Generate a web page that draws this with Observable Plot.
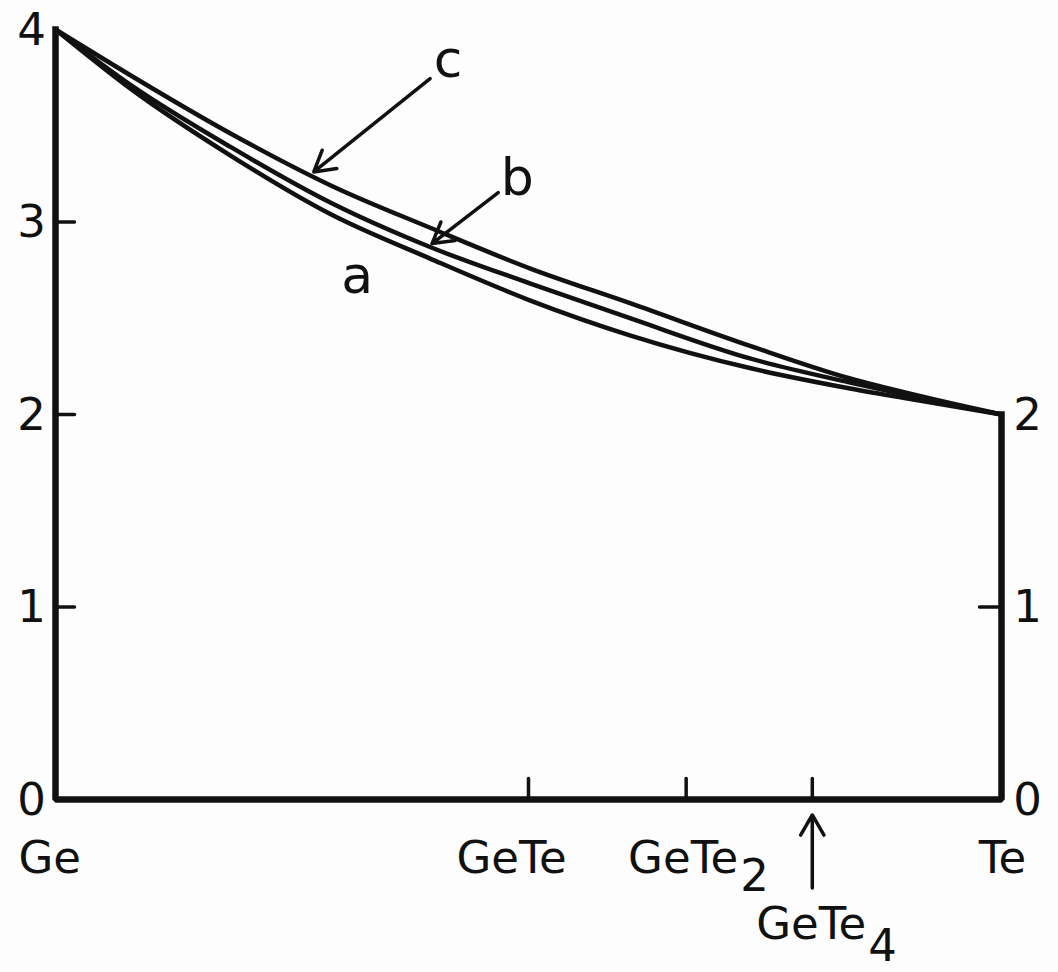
<!DOCTYPE html>
<html>
<head>
<meta charset="utf-8">
<script src="https://cdn.jsdelivr.net/npm/d3@7"></script>
<script src="https://cdn.jsdelivr.net/npm/@observablehq/plot@0.6"></script>
<style>
  html, body { margin: 0; padding: 0; background: #fdfdfd; }
  #chart svg { display: block; }
</style>
</head>
<body>
<div id="chart"></div>
<script>
// Composition runs from pure Ge (0) to pure Te (1), as atomic fraction of Te.
const compX = [0, 0.08, 0.185, 0.291, 0.396, 0.502, 0.608, 0.735, 0.84, 0.91, 1];

// The three model curves (average coordination vs. composition)
const curveA = [4, 3.69, 3.345, 3.04, 2.81, 2.592, 2.41, 2.24, 2.135, 2.075, 2.0];
const curveB = [4, 3.71, 3.39, 3.10, 2.87, 2.68, 2.499, 2.29, 2.166, 2.09, 2.0];
const curveC = [4, 3.76, 3.46, 3.19, 2.97, 2.758, 2.577, 2.355, 2.187, 2.10, 2.0];

// Outline of the diagram: left axis up to 4, bottom, right axis up to 2
const frameX = [0, 0, 1, 1];
const frameY = [4, 0, 0, 2];

// Axis ticks and their labels
const leftTicks = [1, 2, 3];
const leftLabels = [0, 1, 2, 3, 4];
const rightTicks = [1];
const rightLabels = [0, 1, 2];

// Compounds marked along the composition axis
const compoundNames = ["GeTe", "GeTe2", "GeTe4"];
const compoundX = [0.5, 2 / 3, 0.8];

// Curve labels and pointer arrows
const curveNames = ["a", "b", "c"];
const curveLabelX = [0.319, 0.488, 0.415];
const curveLabelY = [2.629, 3.138, 3.751];
const pointerFromX = [0.468, 0.396];
const pointerFromY = [3.153, 3.745];
const pointerToX = [0.398, 0.273];
const pointerToY = [2.888, 3.26];

const ink = "#111";
const font = "'DejaVu Sans', sans-serif";
const size = 45;

const curves = [
  ...compX.map((x, i) => ({x, y: curveA[i], k: "a"})),
  ...compX.map((x, i) => ({x, y: curveB[i], k: "b"})),
  ...compX.map((x, i) => ({x, y: curveC[i], k: "c"}))
];
const frame = frameX.map((x, i) => ({x, y: frameY[i]}));
const curveLabels = curveNames.map((t, i) => ({t, x: curveLabelX[i], y: curveLabelY[i]}));
const pointers = pointerFromX.map((x, i) => ({x1: x, y1: pointerFromY[i], x2: pointerToX[i], y2: pointerToY[i]}));

// a short straight stroke used for inward-pointing ticks
const stub = {draw(context, l) { context.moveTo(0, 0); context.lineTo(0, -l); }};

// bottom label: base text plus optional subscript
function compoundLabel(x, base, sub, opts) {
  const marks = [
    Plot.text([x], {x: d => d, y: 0, text: [base], textAnchor: opts.anchor, lineAnchor: "bottom",
      dx: opts.dx, dy: opts.dy, fontSize: size, fontFamily: font, fill: ink})
  ];
  if (sub) {
    marks.push(Plot.text([x], {x: d => d, y: 0, text: [sub], textAnchor: "start", lineAnchor: "bottom",
      dx: opts.dx + 2, dy: opts.dy + opts.drop, fontSize: size, fontFamily: font, fill: ink}));
  }
  return marks;
}

const chart = Plot.plot({
  width: 1058,
  height: 972,
  marginLeft: 55,
  marginRight: 57,
  marginTop: 29,
  marginBottom: 173,
  x: {domain: [0, 1], axis: null},
  y: {domain: [0, 4], axis: null},
  style: {background: "#fdfdfd", fontFamily: font},
  marks: [
    // curves a, b, c
    Plot.line(curves, {x: "x", y: "y", z: "k", curve: "monotone-x", stroke: ink, strokeWidth: 4.5}),
    // outline axes
    Plot.line(frame, {x: "x", y: "y", stroke: ink, strokeWidth: 6.5, strokeLinejoin: "miter", strokeLinecap: "square"}),
    // inward ticks on the left axis
    Plot.vector(leftTicks, {x: 0, y: d => d, rotate: 90, length: 19, anchor: "start", shape: stub, stroke: ink, strokeWidth: 3.5}),
    // inward tick on the right axis
    Plot.vector(rightTicks, {x: 1, y: d => d, rotate: -90, length: 22, anchor: "start", shape: stub, stroke: ink, strokeWidth: 3.5}),
    // compound ticks on the bottom axis
    Plot.vector(compoundX, {x: d => d, y: 0, rotate: 0, length: 21, anchor: "start", shape: stub, stroke: ink, strokeWidth: 3.5}),
    // y labels
    Plot.text(leftLabels, {x: 0, y: d => d, text: d => String(d), dx: -24, dy: 1, textAnchor: "middle", fontSize: size, fontFamily: font, fill: ink}),
    Plot.text(rightLabels, {x: 1, y: d => d, text: d => String(d), dx: 26, dy: 1, textAnchor: "middle", fontSize: size, fontFamily: font, fill: ink}),
    // composition labels
    ...compoundLabel(0, "Ge", "", {anchor: "start", dx: -37, dy: 73}),
    ...compoundLabel(compoundX[0], "GeTe", "", {anchor: "start", dx: -72, dy: 73}),
    ...compoundLabel(compoundX[1], "GeTe", "2", {anchor: "end", dx: 52, dy: 73, drop: 18}),
    ...compoundLabel(compoundX[2], "GeTe", "4", {anchor: "end", dx: 54, dy: 139, drop: 22}),
    ...compoundLabel(1, "Te", "", {anchor: "middle", dx: 1, dy: 73}),
    // arrow pointing at GeTe4 on the axis
    Plot.arrow([compoundX[2]], {x1: d => d, x2: d => d, y1: -0.46, y2: -0.08, stroke: ink, strokeWidth: 3.5, headLength: 10}),
    // curve labels and pointers
    Plot.text(curveLabels, {x: "x", y: "y", text: "t", textAnchor: "middle", lineAnchor: "bottom", fontSize: 52, fontFamily: font, fill: ink}),
    Plot.arrow(pointers, {x1: "x1", y1: "y1", x2: "x2", y2: "y2", stroke: ink, strokeWidth: 3.5, headLength: 10})
  ]
});

document.getElementById("chart").append(chart);
</script>
</body>
</html>
